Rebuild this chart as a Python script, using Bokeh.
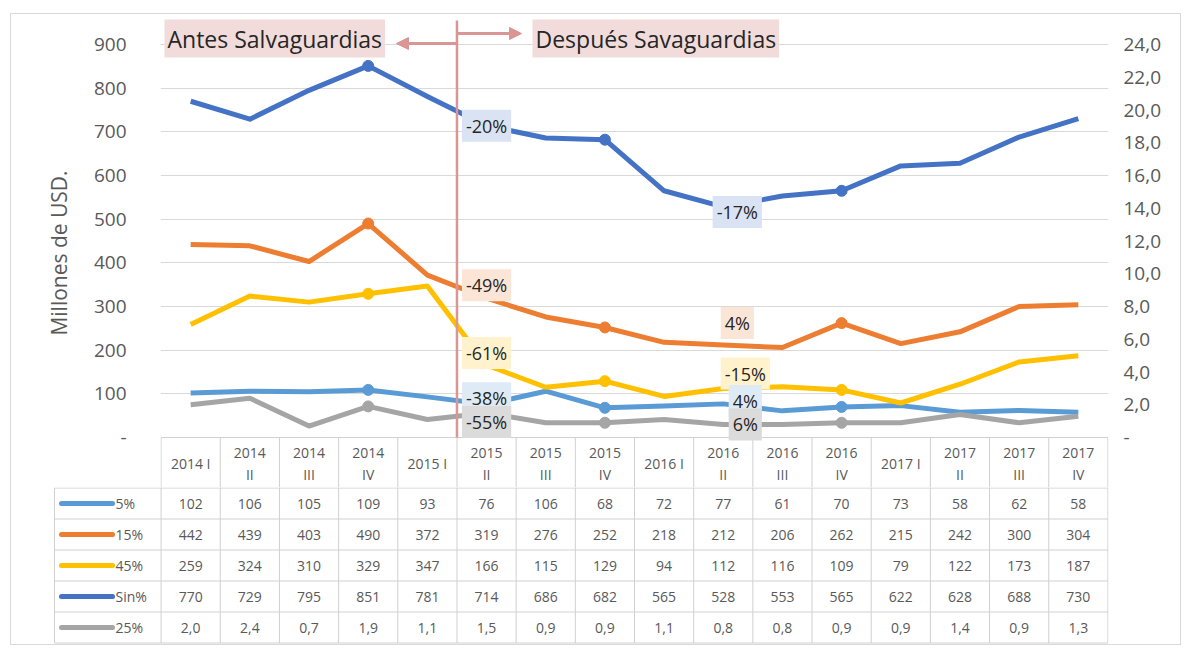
from bokeh.plotting import figure
from bokeh.models import (Range1d, LinearAxis, FixedTicker, Label, Arrow, NormalHead,
                          CustomJSTickFormatter)
from bokeh.layouts import column
from bokeh.embed import file_html
from bokeh.resources import INLINE
from bokeh.core.properties import value

# ---------------- data ----------------
quarters = ["2014 I", "2014 II", "2014 III", "2014 IV",
            "2015 I", "2015 II", "2015 III", "2015 IV",
            "2016 I", "2016 II", "2016 III", "2016 IV",
            "2017 I", "2017 II", "2017 III", "2017 IV"]
s5 = [102, 106, 105, 109, 93, 76, 106, 68, 72, 77, 61, 70, 73, 58, 62, 58]
s15 = [442, 439, 403, 490, 372, 319, 276, 252, 218, 212, 206, 262, 215, 242, 300, 304]
s45 = [259, 324, 310, 329, 347, 166, 115, 129, 94, 112, 116, 109, 79, 122, 173, 187]
sin = [770, 729, 795, 851, 781, 714, 686, 682, 565, 528, 553, 565, 622, 628, 688, 730]
s25 = [2.0, 2.4, 0.7, 1.9, 1.1, 1.5, 0.9, 0.9, 1.1, 0.8, 0.8, 0.9, 0.9, 1.4, 0.9, 1.3]
series_names = ["5%", "15%", "45%", "Sin%", "25%"]
marker_idx = [3, 7, 11]
left_ticks = [0, 100, 200, 300, 400, 500, 600, 700, 800, 900]
right_ticks = [0, 2, 4, 6, 8, 10, 12, 14, 16, 18, 20, 22, 24]
changes_a = ["-20%", "-49%", "-61%", "-38%", "-55%"]   # at 2015 II
changes_b = ["-17%", "4%", "-15%", "4%", "6%"]         # at 2016 II

# ---------------- styles ----------------
FONT = "Open Sans"
TXT = "#595959"
DARK = "#262626"
C5, C15, C45, CSIN, C25 = "#5b9bd5", "#ed7d31", "#ffc000", "#4472c4", "#a5a5a5"
ROSE = "#d99694"
GRID = "#d9d9d9"
TB = "#d0d0d0"
BOX = {"Sin%": "#dae3f3", "15%": "#fbe5d6", "45%": "#fff2cc", "5%": "#deebf7", "25%": "#dbdbdb"}

n = len(quarters)
xs = list(range(n))
K = 393 / 900.0            # px per left-axis unit
ratio = 900 / 24.0         # left units per right unit
X0, X1 = -0.51, n - 0.49
FRAME_W = 948
unit = FRAME_W / (X1 - X0)


def px2x(px):
    return X0 + (px - 160) / unit


def px2y(py):
    return (437 - py) / K


# ---------------- chart (+ header row) ----------------
y_lo, y_hi = px2y(487), px2y(18)
p1 = figure(width=1169, height=473, x_range=Range1d(X0, X1), y_range=Range1d(y_lo, y_hi),
            output_backend="svg", toolbar_location=None, min_border_left=149,
            min_border_right=72, min_border_top=4, min_border_bottom=0,
            x_axis_location=None, outline_line_color=None, frame_align=False)
p1.extra_y_ranges = {"right": Range1d(y_lo / ratio, y_hi / ratio)}
p1.xgrid.visible = False
p1.ygrid.ticker = FixedTicker(ticks=left_ticks[1:])
p1.ygrid.grid_line_color = GRID

ya = p1.yaxis[0]
ya.ticker = FixedTicker(ticks=left_ticks)
ya.formatter = CustomJSTickFormatter(code="return tick == 0 ? '-' : tick.toFixed(0);")
ya.axis_line_color = None
ya.major_tick_line_color = None
ya.minor_tick_line_color = None
ya.major_label_text_font = FONT
ya.major_label_text_font_size = "19px"
ya.major_label_text_color = TXT
ya.major_label_standoff = 28
ya.axis_label = "Millones de USD."
ya.axis_label_text_font = FONT
ya.axis_label_text_font_size = "21px"
ya.axis_label_text_font_style = "normal"
ya.axis_label_text_color = TXT
ya.axis_label_standoff = 18

ra = LinearAxis(y_range_name="right", ticker=FixedTicker(ticks=right_ticks))
ra.formatter = CustomJSTickFormatter(code="return tick == 0 ? '-' : tick.toFixed(1).replace('.', ',');")
ra.axis_line_color = None
ra.major_tick_line_color = None
ra.minor_tick_line_color = None
ra.major_label_text_font = FONT
ra.major_label_text_font_size = "19px"
ra.major_label_text_color = TXT
ra.major_label_standoff = 9
p1.add_layout(ra, "right")

# header row of the table (inside chart figure)
p1.segment(x0=[-0.5], y0=[0], x1=[n - 0.5], y1=[0], line_color=TB, line_width=1)
vx = [i - 0.5 for i in range(n + 1)]
p1.segment(x0=vx, y0=[0] * len(vx), x1=vx, y1=[y_lo] * len(vx), line_color=TB, line_width=1)
hdr = [q if q.endswith(" I") else q.replace(" ", "\n") for q in quarters]
p1.text(x=xs, y=[px2y(463)] * n, text=hdr, text_font=value(FONT), text_font_size="14px",
        text_color=TXT, text_align="center", text_baseline="middle", text_line_height=1.15)

# series
for vals, col, rng in [(s5, C5, "default"), (s15, C15, "default"), (s45, C45, "default"),
                       (sin, CSIN, "default"), (s25, C25, "right")]:
    p1.line(xs, vals, line_color=col, line_width=5, y_range_name=rng, line_join="round")
    p1.scatter([xs[i] for i in marker_idx], [vals[i] for i in marker_idx], size=11,
               fill_color=col, line_color=col, y_range_name=rng)

# vertical divider
p1.segment(x0=[4.5], y0=[0], x1=[4.5], y1=[px2y(20)], line_color=ROSE, line_width=2.5)

# period boxes and arrows
p1.add_layout(Label(x=px2x(164), y=px2y(38), text="Antes Salvaguardias",
                    text_font=FONT, text_font_size="23px", text_color=DARK,
                    text_align="left", text_baseline="middle",
                    background_fill_color="#f2dcdb", padding=3))
p1.add_layout(Label(x=px2x(532), y=px2y(38), text="Después Savaguardias",
                    text_font=FONT, text_font_size="23px", text_color=DARK,
                    text_align="left", text_baseline="middle",
                    background_fill_color="#f2dcdb", padding=3))
p1.add_layout(Arrow(end=NormalHead(size=12, fill_color=ROSE, line_color=ROSE),
                    x_start=4.5, y_start=px2y(43), x_end=px2x(396), y_end=px2y(43),
                    line_color=ROSE, line_width=3))
p1.add_layout(Arrow(end=NormalHead(size=12, fill_color=ROSE, line_color=ROSE),
                    x_start=4.5, y_start=px2y(33), x_end=px2x(521), y_end=px2y(33),
                    line_color=ROSE, line_width=3))

# change labels
order = [("Sin%", sin, "default"), ("15%", s15, "default"), ("45%", s45, "default"),
         ("5%", s5, "default"), ("25%", s25, "right")]
offs_a = [(0, 0), (0, 13), (0, 12), (0, 6), (0, -9)]
offs_b = [(14, -5), (14, 22), (22, 15), (22, 3), (22, 0)]
for idx, texts, offs in [(5, changes_a, offs_a), (9, changes_b, offs_b)]:
    for (name, vals, rng), t, (dx, dy) in zip(order, texts, offs):
        p1.add_layout(Label(x=idx, y=vals[idx], y_range_name=rng, x_offset=dx, y_offset=dy,
                            text=t, text_font=FONT, text_font_size="18px", text_color=DARK,
                            text_align="center", text_baseline="middle",
                            background_fill_color=BOX[name], padding=4))

# ---------------- table body ----------------
FRAME2_W = 1108 - 53
x_left = X1 - FRAME2_W / unit
leg_edge = px2x(54)
row_h = 31
p2 = figure(width=1169, height=157, x_range=Range1d(x_left, X1), y_range=Range1d(157, 0),
            output_backend="svg", toolbar_location=None,
            min_border_left=42, min_border_right=72, min_border_top=0, min_border_bottom=0,
            x_axis_location=None, y_axis_location=None, outline_line_color=None,
            frame_align=False)
p2.grid.visible = False

row_lines = [0.5 + i * row_h for i in range(6)]
p2.segment(x0=[leg_edge] * 6, y0=row_lines, x1=[n - 0.5] * 6, y1=row_lines,
           line_color=TB, line_width=1)
p2.segment(x0=vx, y0=[0] * len(vx), x1=vx, y1=[row_lines[-1]] * len(vx), line_color=TB, line_width=1)
p2.segment(x0=[leg_edge], y0=[0.5], x1=[leg_edge], y1=[row_lines[-1]], line_color=TB, line_width=1)

all_series = [(s5, C5, False), (s15, C15, False), (s45, C45, False), (sin, CSIN, False), (s25, C25, True)]
for r, ((vals, col, dec), name) in enumerate(zip(all_series, series_names)):
    yc = row_lines[r] + row_h / 2
    labels = [(f"{v:.1f}".replace(".", ",") if dec else f"{v:d}") for v in vals]
    p2.text(x=xs, y=[yc] * n, text=labels, text_font=value(FONT), text_font_size="14px",
            text_color=TXT, text_align="center", text_baseline="middle")
    p2.segment(x0=[px2x(61)], y0=[yc], x1=[px2x(112)], y1=[yc], line_color=col,
               line_width=5, line_cap="round")
    p2.text(x=[px2x(115)], y=[yc], text=[name], text_font=value(FONT), text_font_size="14px",
            text_color=TXT, text_align="left", text_baseline="middle")

layout = column(p1, p2, styles={"border": "1px solid #d9d9d9", "margin-left": "10px",
                                "margin-top": "13px"})
open("out.html", "w").write(file_html(layout, INLINE))
